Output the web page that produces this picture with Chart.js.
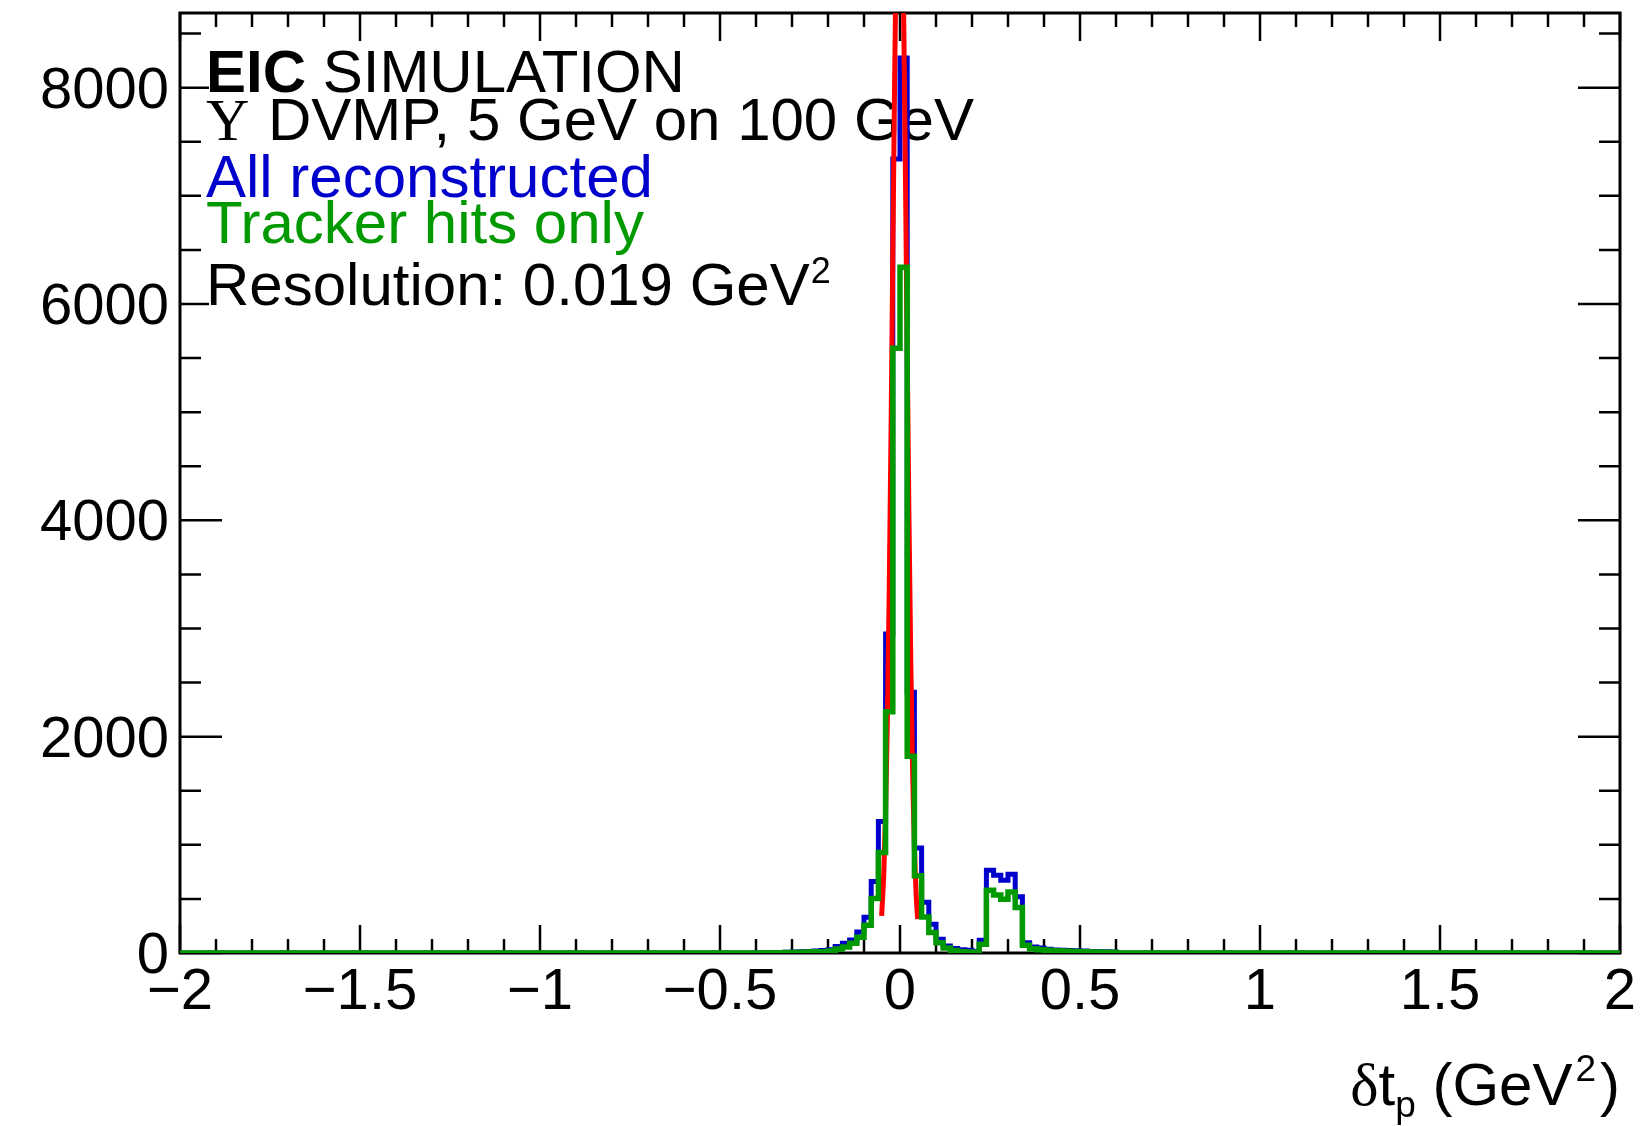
<!DOCTYPE html>
<html>
<head>
<meta charset="utf-8">
<script src="https://cdn.jsdelivr.net/npm/chart.js@4.4.1/dist/chart.umd.min.js"></script>
<style>
  html, body { margin: 0; padding: 0; background: #fff; }
</style>
</head>
<body>
<canvas id="dtChart" width="1641" height="1126"></canvas>
<script>
// binning: 200 bins of 0.02 GeV^2 from -2 to 2
const xMin = -2;
const xMax = 2;
const binWidth = 0.02;
const yMax = 8690;

// counts are listed from this lower bin edge on, all other bins are empty
const firstListedEdge = -0.4;

const allReconstructed = [
  2, 3, 4, 5, 7, 9, 12, 15, 18, 24,
  31, 60, 90, 120, 194, 330, 660, 1215, 2950, 7340,
  8275, 2410, 970, 470, 265, 128, 64, 42, 31, 25,
  12, 117, 765, 719, 672, 728, 520, 95, 56, 47,
  34, 28, 25, 22, 20, 18, 15, 13, 11, 10
];
const trackerHitsOnly = [
  1, 2, 2, 3, 4, 5, 7, 9, 11, 12,
  19, 38, 56, 90, 145, 256, 504, 930, 2230, 5590,
  6340, 1820, 715, 333, 190, 95, 47, 22, 12, 10,
  3, 80, 580, 537, 498, 564, 420, 72, 40, 31,
  25, 20, 18, 16, 14, 12, 10, 9, 8, 7
];

// red gaussian fit
const fitX = [-0.051, -0.045, -0.04, -0.035, -0.03, -0.025, -0.02, -0.015, -0.01, -0.005, 0,
              0.005, 0.01, 0.015, 0.02, 0.025, 0.03, 0.035, 0.04, 0.045, 0.049];
const fitY = [343, 741, 1312, 2166, 3336, 4795, 6432, 8049, 9401, 10243, 10416,
              9881, 8748, 7225, 5570, 4005, 2687, 1683, 982, 536, 314];

const xTicks = [-2, -1.5, -1, -0.5, 0, 0.5, 1, 1.5, 2];
const yTicks = [0, 2000, 4000, 6000, 8000];
const xMinorStep = 0.1;
const yMinorStep = 500;

const SANS = "'Liberation Sans', Arial, sans-serif";
const SERIF = "'Liberation Serif', 'Times New Roman', serif";
const BLUE = '#0000cc';
const GREEN = '#009a00';
const RED = '#ff0000';

function histPoints(counts) {
  const nBins = Math.round((xMax - xMin) / binWidth);
  const offset = Math.round((firstListedEdge - xMin) / binWidth);
  const pts = [];
  for (let i = 0; i < nBins; i++) {
    const j = i - offset;
    const v = (j >= 0 && j < counts.length) ? counts[j] : 0;
    pts.push({ x: xMin + i * binWidth, y: v });
  }
  pts.push({ x: xMax, y: pts[pts.length - 1].y });
  return pts;
}

function fmt(v) {
  return v < 0 ? '\u2212' + Math.abs(v) : String(v);
}

// draws a run of text pieces (font, offset, colour per piece) from x on baseline y
function richText(ctx, parts, x, y) {
  for (const p of parts) {
    ctx.font = p.font;
    ctx.fillStyle = p.color || '#000';
    ctx.fillText(p.t, x + (p.dx || 0), y + (p.dy || 0));
    x += ctx.measureText(p.t).width + (p.dx || 0);
  }
  return x;
}
function richWidth(ctx, parts) {
  let w = 0;
  for (const p of parts) {
    ctx.font = p.font;
    w += ctx.measureText(p.t).width + (p.dx || 0);
  }
  return w;
}

const rootFrame = {
  id: 'rootFrame',
  beforeDatasetsDraw(chart) {
    const { ctx, chartArea: a } = chart;
    const x = chart.scales.x, y = chart.scales.y;
    ctx.save();
    ctx.strokeStyle = '#000';
    ctx.lineWidth = 2.5;
    ctx.beginPath();
    const nx = Math.round((xMax - xMin) / xMinorStep);
    for (let i = 0; i <= nx; i++) {
      const px = x.getPixelForValue(xMin + i * xMinorStep);
      const len = i % 5 === 0 ? 28 : 14;
      ctx.moveTo(px, a.bottom); ctx.lineTo(px, a.bottom - len);
      ctx.moveTo(px, a.top); ctx.lineTo(px, a.top + len);
    }
    for (let i = 0; i * yMinorStep <= yMax; i++) {
      const py = y.getPixelForValue(i * yMinorStep);
      const len = i % 4 === 0 ? 42 : 21;
      ctx.moveTo(a.left, py); ctx.lineTo(a.left + len, py);
      ctx.moveTo(a.right, py); ctx.lineTo(a.right - len, py);
    }
    ctx.stroke();
    ctx.lineWidth = 3;
    ctx.strokeRect(a.left, a.top, a.right - a.left, a.bottom - a.top);

    // text box (white fill hides the long left ticks under it)
    ctx.fillStyle = '#fff';
    ctx.fillRect(209, 44, 770, 276);
    ctx.textBaseline = 'alphabetic';
    ctx.textAlign = 'left';
    const f = '60px ' + SANS;
    richText(ctx, [{ t: 'EIC', font: 'bold ' + f }, { t: ' SIMULATION', font: f }], 206, 92);
    richText(ctx, [{ t: '\u03A5', font: '60px ' + SERIF }], 206, 140);
    richText(ctx, [{ t: 'DVMP, 5 GeV on 100 GeV', font: f }], 268, 140);
    richText(ctx, [{ t: 'All reconstructed', font: f, color: BLUE }], 206, 197);
    richText(ctx, [{ t: 'Tracker hits only', font: f, color: GREEN }], 206, 243);
    richText(ctx, [{ t: 'Resolution: 0.019 GeV', font: f },
                   { t: '2', font: '36px ' + SANS, dx: 1, dy: -22 }], 206, 305);

    // x axis title, right aligned
    const g = '60px ' + SANS;
    const title = [
      { t: '\u03B4', font: '60px ' + SERIF },
      { t: 't', font: g },
      { t: 'p', font: '37px ' + SANS, dy: 12 },
      { t: ' (GeV', font: g },
      { t: '2', font: '37px ' + SANS, dx: 3, dy: -24 },
      { t: ')', font: g, dx: 4 }
    ];
    richText(ctx, title, 1620 - richWidth(ctx, title), 1105);
    ctx.restore();
  }
};

new Chart(document.getElementById('dtChart'), {
  type: 'line',
  data: {
    datasets: [
      {
        label: 'Tracker hits only',
        data: histPoints(trackerHitsOnly),
        borderColor: GREEN,
        borderWidth: 5.5,
        stepped: true,
        pointRadius: 0,
        fill: false,
        order: 0
      },
      {
        label: 'Gaussian fit',
        data: fitX.map((v, i) => ({ x: v, y: fitY[i] })),
        borderColor: RED,
        borderWidth: 5,
        cubicInterpolationMode: 'monotone',
        pointRadius: 0,
        fill: false,
        order: 1
      },
      {
        label: 'All reconstructed',
        data: histPoints(allReconstructed),
        borderColor: BLUE,
        borderWidth: 5,
        stepped: true,
        pointRadius: 0,
        fill: false,
        order: 2
      }
    ]
  },
  options: {
    responsive: false,
    animation: false,
    devicePixelRatio: 1,
    layout: { padding: { left: 0, top: 13, right: 21, bottom: 0 } },
    plugins: { legend: { display: false }, tooltip: { enabled: false } },
    scales: {
      x: {
        type: 'linear',
        min: xMin,
        max: xMax,
        afterBuildTicks: (s) => { s.ticks = xTicks.map(v => ({ value: v })); },
        afterFit: (s) => { s.height = 173; s.paddingLeft = 0; s.paddingRight = 0; },
        grid: { display: false },
        border: { display: false },
        ticks: {
          callback: (v) => fmt(v),
          color: '#000',
          font: { family: SANS, size: 58, lineHeight: 1 },
          padding: 3,
          maxRotation: 0,
          autoSkip: false
        }
      },
      y: {
        min: 0,
        max: yMax,
        afterBuildTicks: (s) => { s.ticks = yTicks.map(v => ({ value: v })); },
        afterFit: (s) => { s.width = 180; s.paddingTop = 0; s.paddingBottom = 0; },
        grid: { display: false },
        border: { display: false },
        ticks: {
          callback: (v) => String(v),
          color: '#000',
          font: { family: SANS, size: 58, lineHeight: 1 },
          padding: 3,
          labelOffset: 4,
          autoSkip: false
        }
      }
    }
  },
  plugins: [rootFrame]
});
</script>
</body>
</html>
